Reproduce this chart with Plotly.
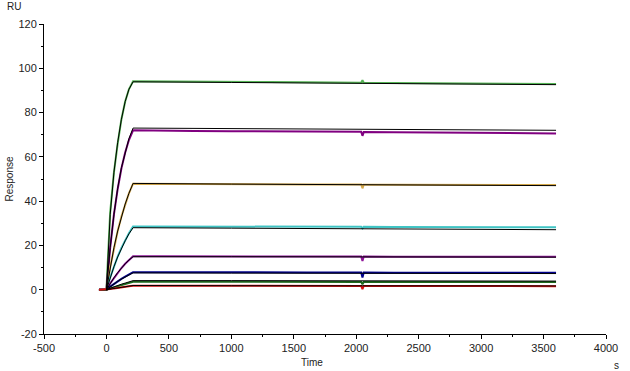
import plotly.graph_objects as go

# ---- data ----
t_base = [-60, -30]
t_assoc = [0, 30, 60, 90, 120, 150, 180, 213]
t_diss_data = [400, 700, 1000, 1300, 1600, 1900, 2040, 2050, 2060, 2300, 2600, 2900, 3200, 3400, 3600]
t_diss_fit = [1000, 1800, 2600, 3400, 3600]

x_tick_vals = [-500, 0, 500, 1000, 1500, 2000, 2500, 3000, 3500, 4000]
x_tick_text = ["-500", "0", "500", "1000", "1500", "2000", "2500", "3000", "3500", "4000"]
y_tick_vals = [-20, 0, 20, 40, 60, 80, 100, 120]
y_tick_text = ["-20", "0", "20", "40", "60", "80", "100", "120"]

colors = ["#55b455", "#800080", "#d4a84a", "#3fc4c4", "#8e1499", "#00008c", "#1f6a1f", "#d81010"]

assoc_data = [
    [0, 35, 53, 66, 77, 85, 90.5, 94.1],
    [0, 19, 34, 45.5, 54.8, 62, 67.6, 72.0],
    [0, 10.2, 19, 26.5, 33.1, 38.7, 43.5, 47.9],
    [0, 5.6, 10.6, 15, 18.9, 22.4, 25.5, 28.6],
    [0, 2.9, 5.4, 7.7, 9.8, 11.7, 13.4, 15.1],
    [0, 1.4, 2.7, 3.9, 4.9, 5.9, 6.8, 7.9],
    [0, 0.6, 1.1, 1.6, 2.1, 2.6, 3.1, 3.6],
    [0, 0.3, 0.6, 0.9, 1.1, 1.4, 1.6, 1.8],
]
diss_data = [
    [94.1, 94.0, 93.9, 93.8, 93.7, 93.6, 93.5, 94.6, 93.5, 93.4, 93.3, 93.2, 93.1, 93.0, 92.9],
    [71.8, 71.7, 71.6, 71.5, 71.4, 71.3, 71.3, 69.5, 71.2, 71.1, 71.0, 70.9, 70.8, 70.7, 70.6],
    [47.8, 47.7, 47.6, 47.6, 47.5, 47.5, 47.5, 45.8, 47.4, 47.4, 47.4, 47.3, 47.3, 47.3, 47.3],
    [28.6, 28.5, 28.5, 28.5, 28.4, 28.4, 28.4, 27.7, 28.4, 28.3, 28.3, 28.3, 28.3, 28.2, 28.2],
    [15.1, 15.0, 15.0, 15.0, 15.0, 15.0, 15.0, 13.0, 15.0, 14.9, 14.9, 14.9, 14.9, 14.9, 14.9],
    [7.9, 7.8, 7.8, 7.8, 7.8, 7.8, 7.8, 5.5, 7.8, 7.7, 7.7, 7.7, 7.7, 7.7, 7.7],
    [3.6, 3.6, 3.6, 3.5, 3.5, 3.5, 3.5, 2.5, 3.5, 3.5, 3.5, 3.5, 3.5, 3.5, 3.5],
    [1.8, 1.8, 1.7, 1.7, 1.7, 1.7, 1.7, 0.3, 1.7, 1.7, 1.6, 1.6, 1.6, 1.6, 1.6],
]
assoc_fit = [
    [0, 34, 53, 66.5, 77, 85, 90.5, 93.9],
    [0, 19, 34, 45.8, 55.1, 62.4, 68.2, 73.0],
    [0, 10.2, 19, 26.5, 33.1, 38.7, 43.5, 48.0],
    [0, 5.5, 10.4, 14.8, 18.7, 22.1, 25.2, 28.0],
    [0, 2.9, 5.4, 7.7, 9.8, 11.7, 13.4, 14.9],
    [0, 1.4, 2.7, 3.8, 4.8, 5.8, 6.7, 7.6],
    [0, 0.7, 1.3, 1.9, 2.5, 3.0, 3.6, 4.1],
    [0, 0.3, 0.6, 0.9, 1.2, 1.4, 1.7, 1.9],
]
diss_fit = [
    [93.6, 93.3, 93.0, 92.7, 92.6],
    [72.7, 72.5, 72.3, 72.1, 72.0],
    [47.7, 47.5, 47.3, 47.1, 47.0],
    [27.8, 27.6, 27.4, 27.2, 27.1],
    [14.9, 14.8, 14.8, 14.7, 14.7],
    [7.5, 7.5, 7.4, 7.4, 7.3],
    [4.1, 4.0, 4.0, 4.0, 3.9],
    [1.8, 1.8, 1.8, 1.7, 1.7],
]

fig = go.Figure()
for i in range(len(colors)):
    x = t_base + t_assoc + t_diss_data
    y = [0, 0] + assoc_data[i] + diss_data[i]
    fig.add_trace(go.Scatter(x=x, y=y, mode="lines",
                             line=dict(color=colors[i], width=2), hoverinfo="skip"))
for i in range(len(colors)):
    x = t_assoc + t_diss_fit
    y = assoc_fit[i] + diss_fit[i]
    fig.add_trace(go.Scatter(x=x, y=y, mode="lines",
                             line=dict(color="black", width=1), hoverinfo="skip"))

axis_common = dict(showgrid=False, zeroline=False, showline=True, linecolor="black",
                   linewidth=1, ticks="outside", ticklen=4, tickcolor="black",
                   tickfont=dict(family="Liberation Sans, Arial", size=11, color="#222"))
fig.update_xaxes(range=[-500, 4000], tickmode="array", tickvals=x_tick_vals, ticktext=x_tick_text,
                 minor=dict(ticks="outside", ticklen=2, dtick=250, tick0=0, tickcolor="black"),
                 **axis_common)
fig.update_yaxes(range=[-20, 120], tickmode="array", tickvals=y_tick_vals, ticktext=y_tick_text,
                 minor=dict(ticks="outside", ticklen=2, dtick=10, tick0=0, tickcolor="black"),
                 **axis_common)

af = dict(family="Liberation Sans, Arial", size=10, color="#222")
fig.update_layout(
    width=630, height=371, showlegend=False,
    plot_bgcolor="white", paper_bgcolor="white",
    margin=dict(l=44, r=16, t=24, b=37),
    annotations=[
        dict(text="RU", xref="paper", yref="paper", x=(14 - 44) / 570, y=(334 - 7) / 310,
             showarrow=False, font=af, xanchor="center", yanchor="middle"),
        dict(text="Response", xref="paper", yref="paper", x=(8 - 44) / 570, y=0.5,
             showarrow=False, font=af, textangle=-90, xanchor="center", yanchor="middle"),
        dict(text="Time", xref="paper", yref="paper", x=(316 - 44) / 570, y=(334 - 362) / 310,
             showarrow=False, font=af, xanchor="center", yanchor="middle"),
        dict(text="s", xref="paper", yref="paper", x=(625 - 44) / 570, y=(334 - 365) / 310,
             showarrow=False, font=af, xanchor="center", yanchor="middle"),
    ],
)
fig.write_html("out.html", config={"displayModeBar": False},
               post_script="document.body.style.margin='0';document.body.style.overflow='hidden';")
